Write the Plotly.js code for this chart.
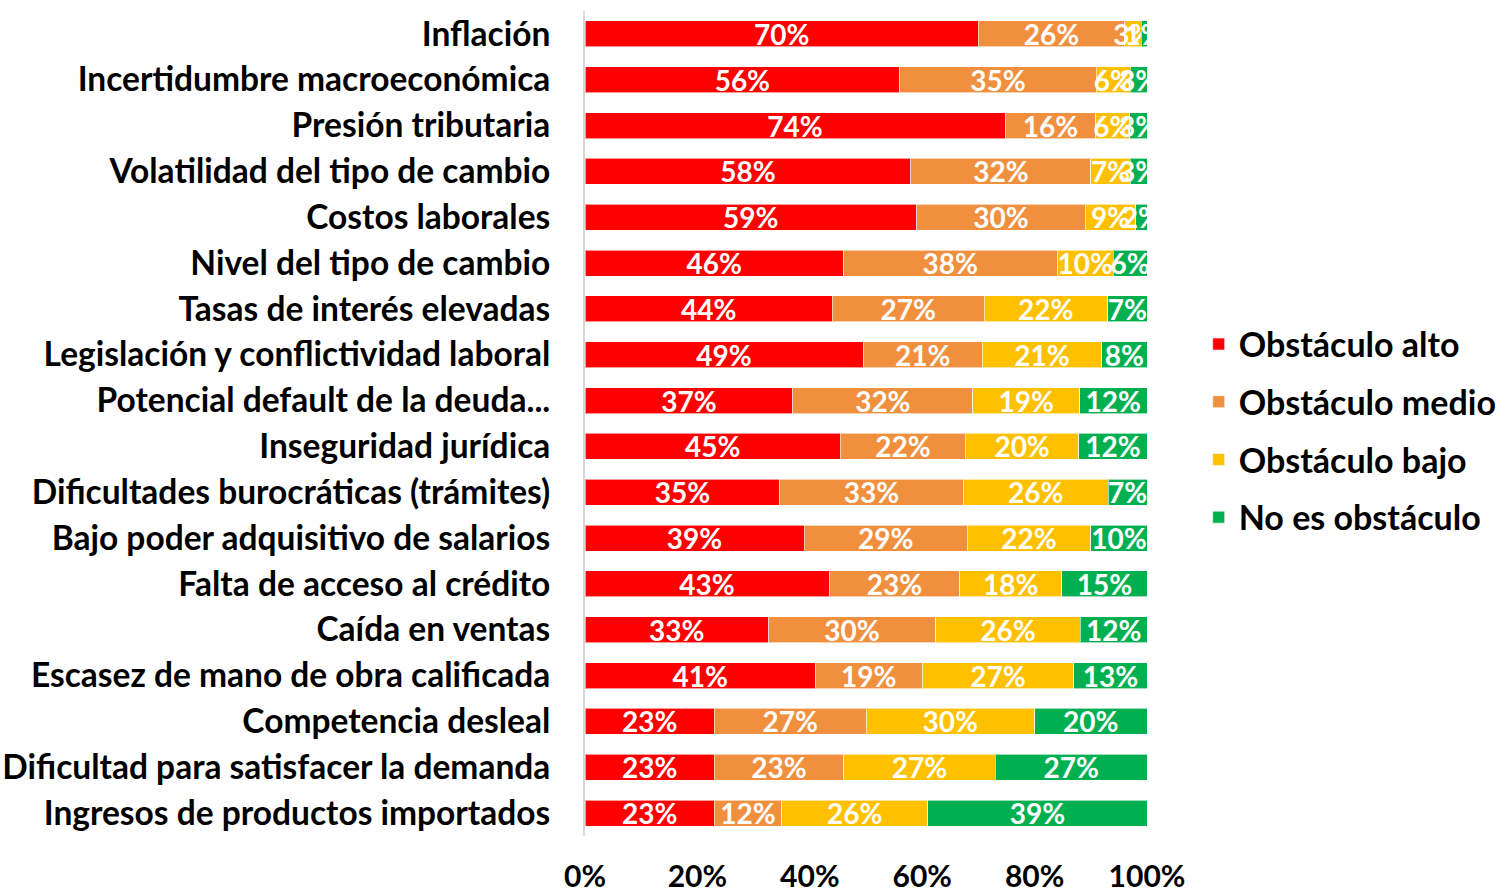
<!DOCTYPE html>
<html>
<head>
<meta charset="utf-8">
<script src="https://cdn.plot.ly/plotly-3.0.1.min.js"></script>
<style>html,body{margin:0;padding:0;background:#fff;}#chart{width:1496px;height:891px;}</style>
</head>
<body>
<div id="chart"></div>
<script>
const categories = [
  "Inflación",
  "Incertidumbre macroeconómica",
  "Presión tributaria",
  "Volatilidad del tipo de cambio",
  "Costos laborales",
  "Nivel del tipo de cambio",
  "Tasas de interés elevadas",
  "Legislación y conflictividad laboral",
  "Potencial default de la deuda...",
  "Inseguridad jurídica",
  "Dificultades burocráticas (trámites)",
  "Bajo poder adquisitivo de salarios",
  "Falta de acceso al crédito",
  "Caída en ventas",
  "Escasez de mano de obra calificada",
  "Competencia desleal",
  "Dificultad para satisfacer la demanda",
  "Ingresos de productos importados"
];
const obstaculoAlto  = [70,56,74,58,59,46,44,49,37,45,35,39,43,33,41,23,23,23];
const obstaculoMedio = [26,35,16,32,30,38,27,21,32,22,33,29,23,30,19,27,23,12];
const obstaculoBajo  = [ 3, 6, 6, 7, 9,10,22,21,19,20,26,22,18,26,27,30,27,26];
const noObstaculo    = [ 1, 3, 3, 3, 2, 6, 7, 8,12,12, 7,10,15,12,13,20,27,39];

const seriesNames = ["Obstáculo alto","Obstáculo medio","Obstáculo bajo","No es obstáculo"];
const seriesValues = [obstaculoAlto, obstaculoMedio, obstaculoBajo, noObstaculo];
const seriesColors = ["#FF0000","#F0903F","#FFC000","#00B050"];

const FONT = "Lato, 'Open Sans', sans-serif";

const traces = seriesNames.map((name, i) => ({
  type: "bar",
  orientation: "h",
  name: name,
  legendgroup: "g" + i,
  y: categories,
  x: seriesValues[i],
  text: seriesValues[i].map(v => v + "%"),
  textposition: "inside",
  insidetextanchor: "middle",
  textangle: 0,
  constraintext: "none",
  textfont: {family: FONT, size: 28, color: "#FFFFFF", weight: "bold"},
  marker: {color: seriesColors[i], line: {color: "rgba(255,255,255,0.6)", width: 1}},
  hoverinfo: "name+x",
  cliponaxis: true
}));

const layout = {
  width: 1496,
  height: 891,
  barmode: "stack",
  barnorm: "percent",
  bargap: 0.43,
  paper_bgcolor: "#FFFFFF",
  plot_bgcolor: "#FFFFFF",
  margin: {l: 585, r: 349, t: 11, b: 55, autoexpand: false},
  font: {family: FONT, color: "#000000"},
  uniformtext: {mode: "show", minsize: 28},
  xaxis: {
    range: [0, 100],
    dtick: 20,
    tick0: 0,
    ticksuffix: "%",
    showgrid: false,
    zeroline: false,
    showline: false,
    ticks: "",
    ticklabelstandoff: 20,
    tickfont: {family: FONT, size: 30, color: "#000000", weight: "bold"}
  },
  yaxis: {
    autorange: "reversed",
    type: "category",
    showgrid: false,
    zeroline: false,
    showline: true,
    linecolor: "#D9D9D9",
    linewidth: 2,
    ticks: "",
    ticklabelstandoff: 26,
    tickfont: {family: FONT, size: 33.5, color: "#000000", weight: "bold"}
  },
  showlegend: true,
  legend: {
    x: 1.092,
    xanchor: "left",
    y: 0.491,
    yanchor: "middle",
    traceorder: "grouped",
    tracegroupgap: 10.5,
    font: {family: FONT, size: 34, color: "#000000", weight: "bold"},
    bgcolor: "rgba(0,0,0,0)"
  }
};

Plotly.newPlot("chart", traces, layout, {displayModeBar: false, staticPlot: true});
</script>
</body>
</html>
